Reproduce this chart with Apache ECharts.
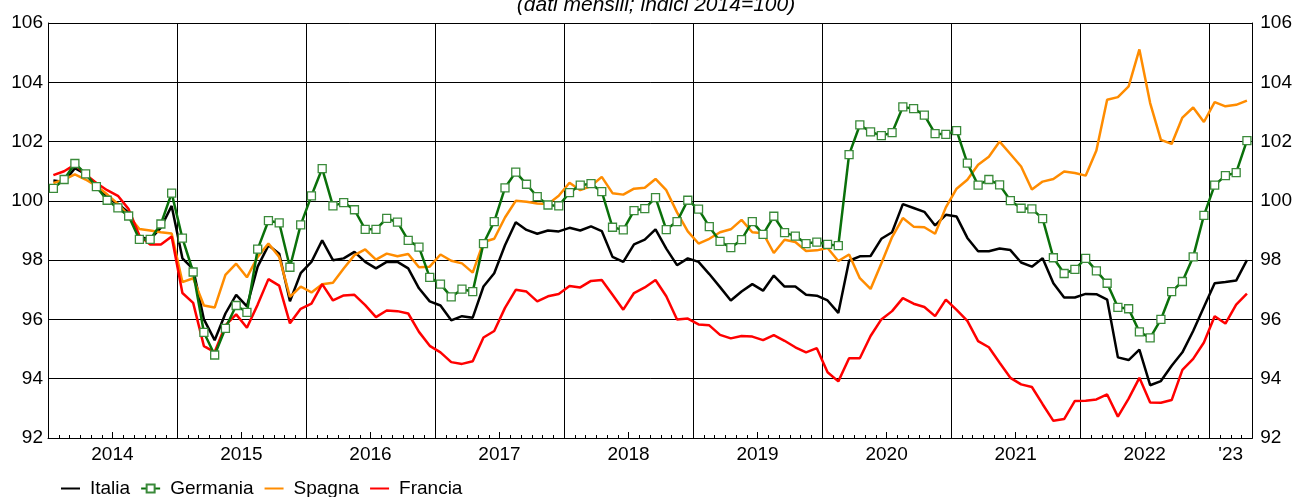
<!DOCTYPE html>
<html>
<head>
<meta charset="utf-8">
<script src="https://cdn.jsdelivr.net/npm/echarts@6/dist/echarts.min.js"></script>
<style>
html,body{margin:0;padding:0;background:#fff;}
#chart{width:1295px;height:497px;}
</style>
</head>
<body>
<div id="chart"></div>
<script>
// Year labels shown on the x axis (2023 shortened as in the source)
const yearLabels = ['2014','2015','2016','2017','2018','2019','2020','2021','2022',"'23"];
const nMonths = 112; // Jan 2014 .. Apr 2023

const italia = [
  100.69,100.64,101.10,100.90,100.50,100.10,99.90,99.60,98.78,98.70,99.10,99.83,
  98.06,97.70,96.00,95.30,96.20,96.83,96.44,97.78,98.50,98.22,96.61,97.56,
  97.94,98.67,98.00,98.06,98.28,97.94,97.72,97.94,97.94,97.72,97.05,96.61,
  96.47,95.97,96.11,96.06,97.11,97.56,98.50,99.28,99.02,98.89,99.00,98.97,
  99.09,99.00,99.14,98.98,98.11,97.94,98.53,98.69,99.04,98.39,97.83,98.06,
  97.94,97.53,97.09,96.64,96.94,97.19,96.97,97.48,97.11,97.11,96.83,96.80,
  96.64,96.22,97.98,98.13,98.14,98.72,98.94,99.89,99.76,99.63,99.17,99.53,
  99.47,98.75,98.30,98.30,98.39,98.34,97.92,97.78,98.06,97.22,96.74,96.74,
  96.86,96.85,96.67,94.72,94.63,94.98,93.78,93.92,94.44,94.89,95.61,96.42,
  97.22,97.26,97.31,98.00
];
const germania = [
  100.42,100.72,101.26,100.91,100.48,100.02,99.76,99.49,98.70,98.70,99.22,100.26,
  98.74,97.60,95.56,94.80,95.70,96.47,96.24,98.37,99.33,99.26,97.76,99.19,
  100.17,101.09,99.83,99.94,99.70,99.04,99.04,99.41,99.28,98.67,98.44,97.42,
  97.19,96.76,97.02,96.94,98.56,99.30,100.44,100.97,100.56,100.14,99.86,99.83,
  100.28,100.53,100.58,100.31,99.11,99.02,99.67,99.74,100.11,99.03,99.30,100.02,
  99.72,99.13,98.63,98.42,98.69,99.30,98.87,99.48,98.93,98.81,98.56,98.61,
  98.53,98.49,101.56,102.56,102.33,102.20,102.30,103.17,103.11,102.89,102.27,102.24,
  102.37,101.27,100.53,100.72,100.54,100.01,99.75,99.73,99.40,98.08,97.55,97.69,
  98.06,97.64,97.22,96.41,96.36,95.58,95.38,96.00,96.94,97.28,98.11,99.51,
  100.53,100.85,100.95,102.03
];
const spagna = [
  100.60,100.72,100.89,100.72,100.50,100.22,99.90,99.50,99.05,99.00,98.94,98.90,
  97.26,97.39,96.47,96.40,97.50,97.88,97.42,98.11,98.56,98.11,96.76,97.11,
  96.91,97.19,97.24,97.72,98.17,98.36,98.02,98.22,98.13,98.21,97.76,97.78,
  98.19,97.98,97.89,97.58,98.61,98.72,99.44,100.00,99.97,99.91,99.89,100.17,
  100.61,100.36,100.50,100.81,100.26,100.21,100.41,100.44,100.74,100.36,99.61,98.97,
  98.56,98.72,98.94,99.04,99.36,98.94,98.91,98.24,98.69,98.61,98.31,98.33,
  98.41,97.97,98.19,97.39,97.03,97.89,98.78,99.42,99.13,99.11,98.89,99.78,
  100.41,100.71,101.22,101.49,102.00,101.58,101.16,100.38,100.65,100.74,100.99,100.94,
  100.85,101.70,103.41,103.50,103.86,105.11,103.30,102.06,101.92,102.81,103.15,102.66,
  103.33,103.19,103.24,103.38
];
const francia = [
  100.87,101.00,101.22,100.89,100.60,100.36,100.17,99.72,98.83,98.53,98.53,98.80,
  96.89,96.56,95.10,94.90,95.80,96.17,95.72,96.50,97.36,97.14,95.87,96.36,
  96.53,97.19,96.64,96.81,96.83,96.48,96.08,96.30,96.28,96.20,95.58,95.11,
  94.89,94.56,94.50,94.59,95.39,95.61,96.39,97.00,96.94,96.61,96.78,96.86,
  97.13,97.08,97.30,97.33,96.83,96.33,96.89,97.08,97.33,96.78,96.00,96.03,
  95.83,95.80,95.48,95.36,95.44,95.42,95.30,95.47,95.28,95.06,94.89,95.03,
  94.22,93.91,94.69,94.69,95.44,96.00,96.28,96.72,96.53,96.42,96.11,96.67,
  96.32,95.95,95.27,95.06,94.54,94.03,93.81,93.72,93.14,92.58,92.64,93.25,
  93.26,93.30,93.47,92.72,93.33,94.03,93.20,93.19,93.28,94.30,94.67,95.22,
  96.11,95.86,96.50,96.87
];

// month categories
const categories = [];
for (let i = 0; i < nMonths; i++) {
  const y = 2014 + Math.floor(i / 12);
  const m = (i % 12) + 1;
  categories.push(y + '-' + (m < 10 ? '0' + m : m));
}
function labelFor(index) {
  if (index === 110) return yearLabels[9];
  if (index % 12 === 6) return yearLabels[Math.floor(index / 12)];
  return '';
}

const FONT = 'Liberation Sans, Arial, sans-serif';
const chart = echarts.init(document.getElementById('chart'), null, {renderer: 'canvas'});
chart.setOption({
  animation: false,
  backgroundColor: '#ffffff',
  title: {
    text: '(dati mensili; indici 2014=100)',
    left: 651,
    textAlign: 'center',
    top: -10,
    textStyle: {fontFamily: FONT, fontSize: 21, fontStyle: 'italic', fontWeight: 'normal', color: '#000'}
  },
  grid: {left: 48, right: 41, top: 23, bottom: 59, containLabel: false},
  legend: {
    left: 55,
    top: 474,
    itemWidth: 19,
    itemHeight: 10,
    itemGap: 10,
    textStyle: {fontFamily: FONT, fontSize: 19, color: '#000', padding: [0, 0, 0, 5]},
    data: [
      {name: 'Italia', itemStyle: {opacity: 0}},
      {name: 'Germania'},
      {name: 'Spagna', itemStyle: {opacity: 0}},
      {name: 'Francia', itemStyle: {opacity: 0}}
    ]
  },
  xAxis: [
    {
      type: 'category',
      data: categories,
      boundaryGap: true,
      axisLine: {show: true, lineStyle: {color: '#000', width: 1}},
      axisTick: {show: true, inside: true, length: 3, interval: 0, lineStyle: {color: '#000', width: 1}},
      axisLabel: {
        show: true,
        interval: function (index) { return labelFor(index) !== ''; },
        formatter: function (value, index) { return labelFor(index); },
        fontFamily: FONT, fontSize: 19, color: '#000',
        margin: 7,
        padding: [0, 11, 0, 0]
      },
      splitLine: {
        show: true,
        interval: function (index) { return index > 0 && index % 12 === 0; },
        lineStyle: {color: '#000', width: 1}
      }
    },
    {
      type: 'category',
      data: categories,
      boundaryGap: true,
      position: 'bottom',
      axisLine: {show: false},
      axisLabel: {show: false},
      axisTick: {show: true, inside: true, length: 6, interval: function (index) { return index % 12 === 6; }, lineStyle: {color: '#000', width: 1}},
      splitLine: {show: false}
    }
  ],
  yAxis: [
    {
      type: 'value', min: 92, max: 106, interval: 2, position: 'left',
      axisLine: {show: true, lineStyle: {color: '#000', width: 1}},
      axisTick: {show: false},
      axisLabel: {fontFamily: FONT, fontSize: 19, color: '#000', margin: 5},
      splitLine: {show: true, lineStyle: {color: '#000', width: 1}}
    },
    {
      type: 'value', min: 92, max: 106, interval: 2, position: 'right',
      axisLine: {show: true, lineStyle: {color: '#000', width: 1}},
      axisTick: {show: false},
      axisLabel: {fontFamily: FONT, fontSize: 19, color: '#000', margin: 8},
      splitLine: {show: false}
    }
  ],
  series: [
    {
      name: 'Italia', type: 'line', data: italia, xAxisIndex: 0, yAxisIndex: 0,
      symbol: 'none', z: 3,
      lineStyle: {color: '#000000', width: 2.5}, itemStyle: {color: '#000000'}
    },
    {
      name: 'Germania', type: 'line', data: germania, xAxisIndex: 0, yAxisIndex: 0,
      symbol: 'rect', symbolSize: 8, showSymbol: true, showAllSymbol: true, z: 5,
      lineStyle: {color: '#0a700a', width: 2.5},
      itemStyle: {color: '#ffffff', borderColor: '#3a8a3a', borderWidth: 1.3}
    },
    {
      name: 'Spagna', type: 'line', data: spagna, xAxisIndex: 0, yAxisIndex: 0,
      symbol: 'none', z: 3,
      lineStyle: {color: '#ff8c00', width: 2.5}, itemStyle: {color: '#ff8c00'}
    },
    {
      name: 'Francia', type: 'line', data: francia, xAxisIndex: 0, yAxisIndex: 0,
      symbol: 'none', z: 3,
      lineStyle: {color: '#ff0000', width: 2.5}, itemStyle: {color: '#ff0000'}
    }
  ]
});
</script>
</body>
</html>
